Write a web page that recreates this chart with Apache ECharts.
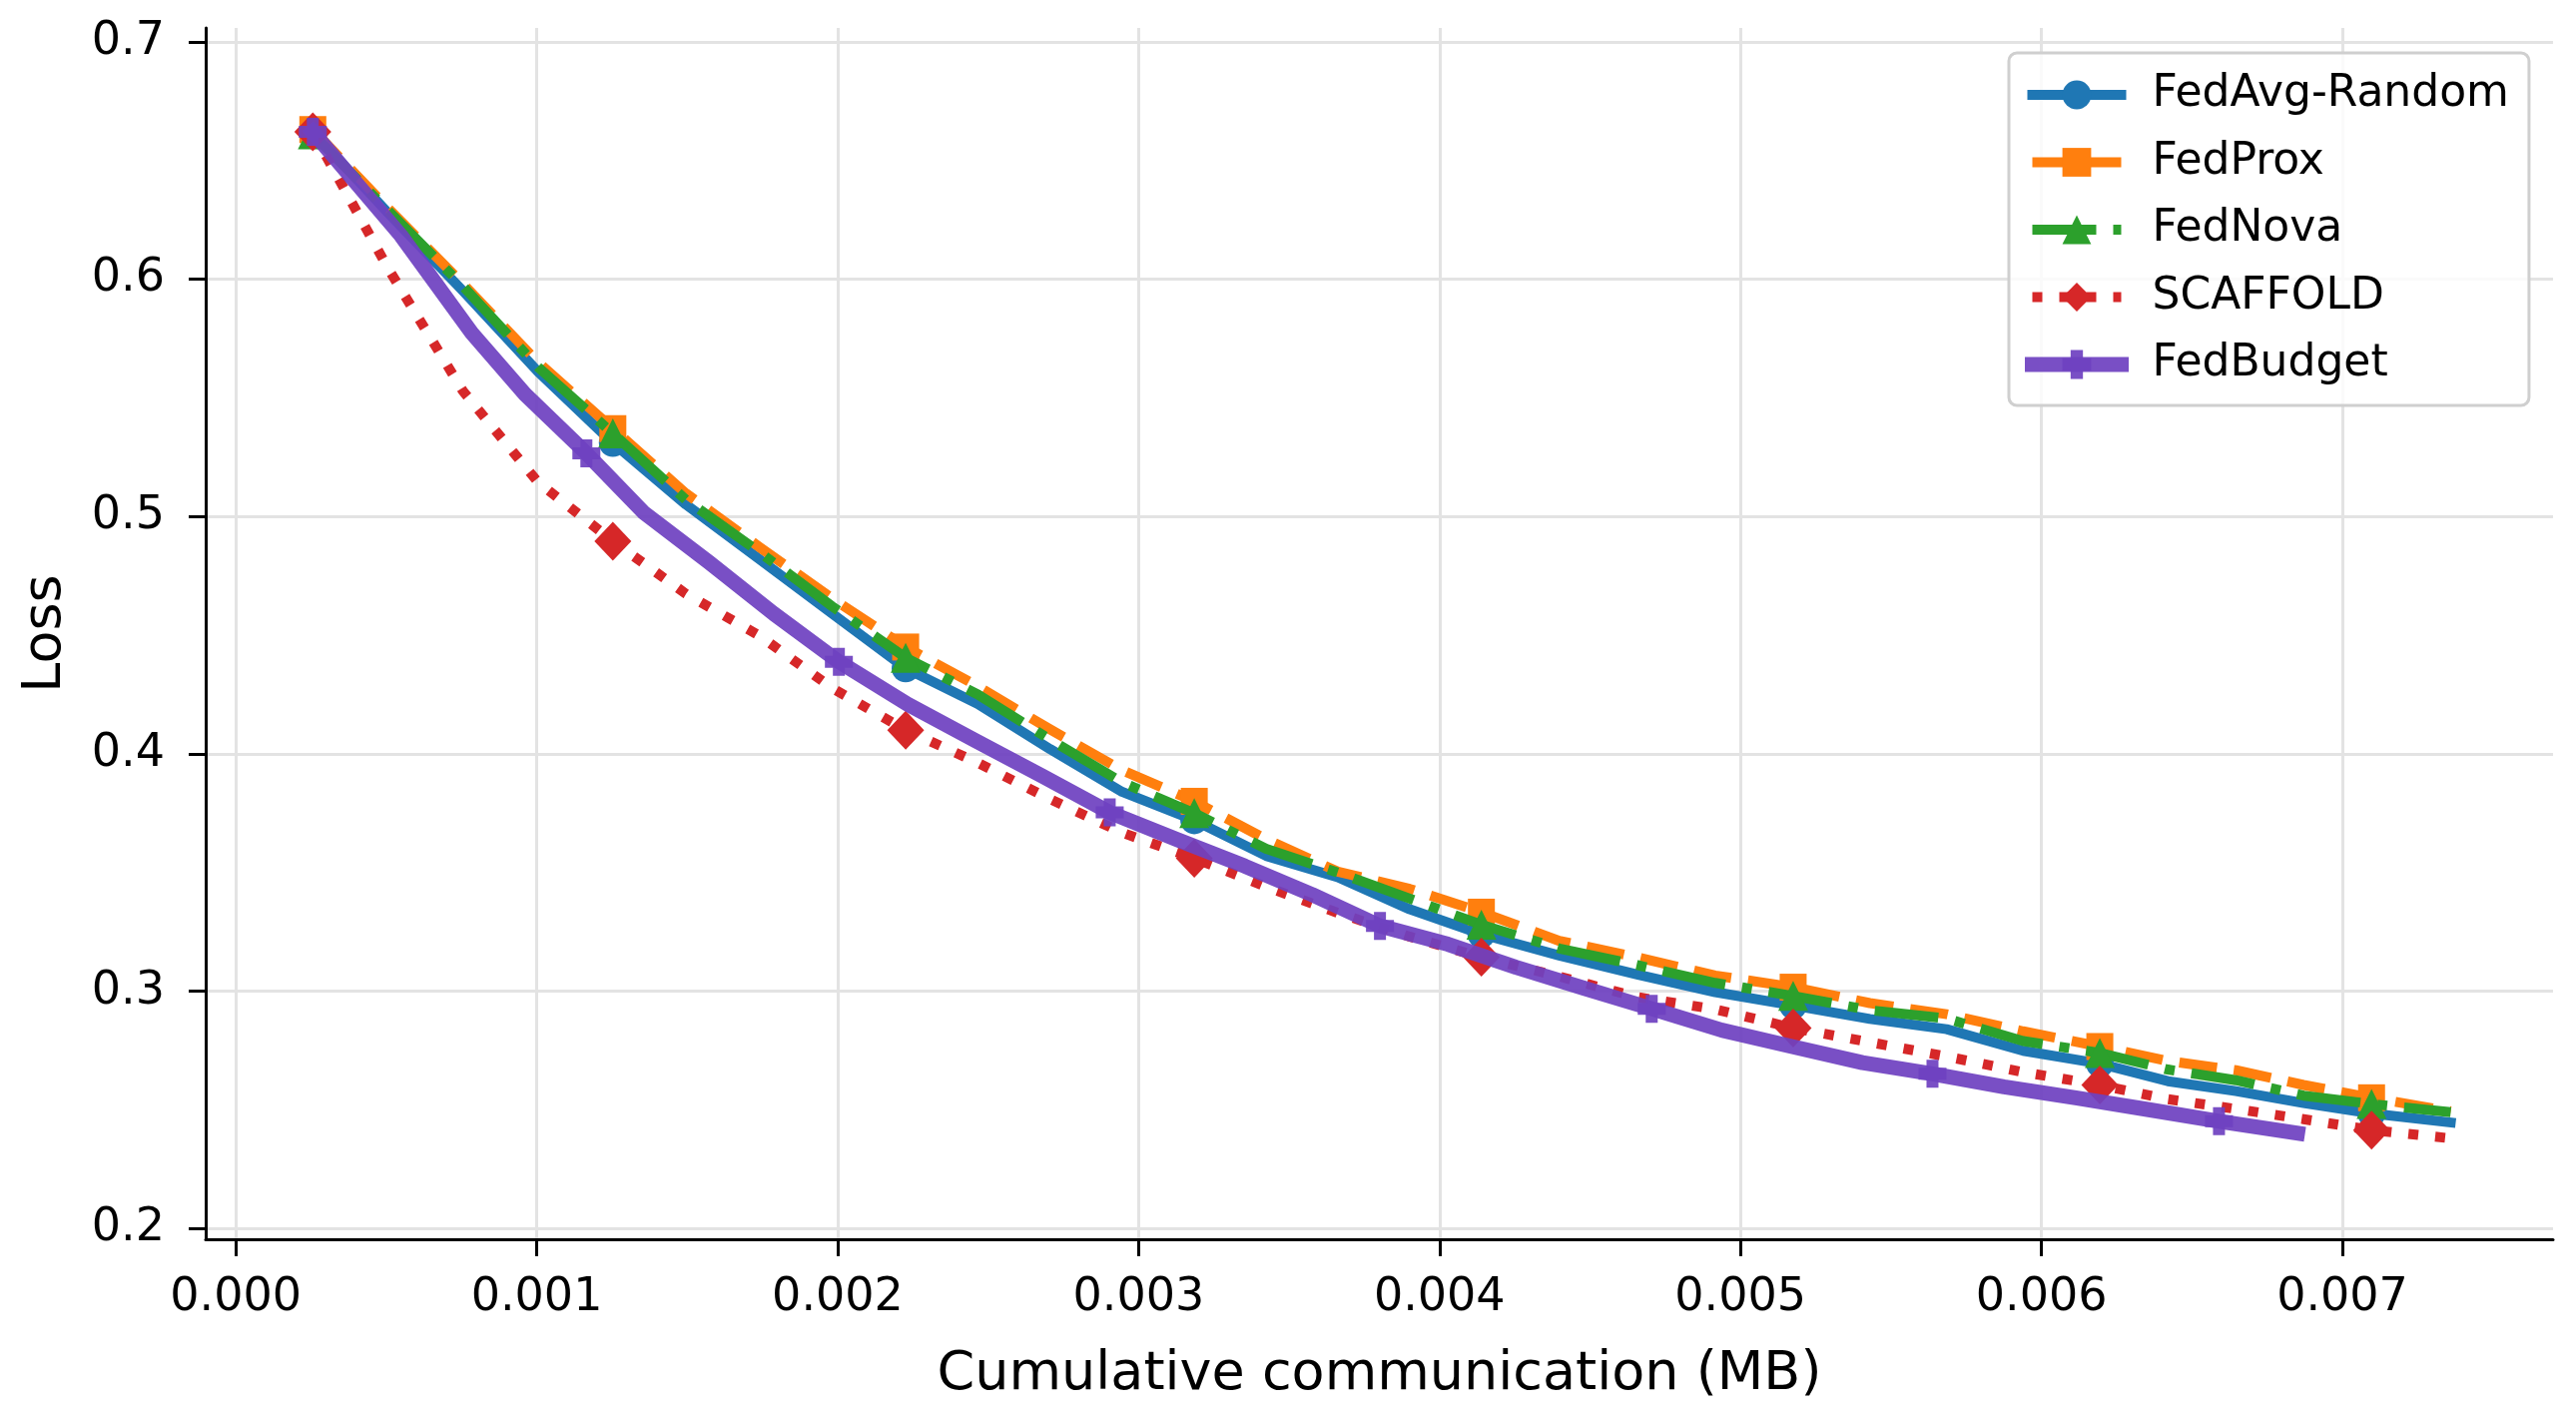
<!DOCTYPE html>
<html lang="en">
<head>
  <meta charset="UTF-8">
  <title>Loss vs cumulative communication</title>
  <style>
    html, body {margin: 0; padding: 0; background: #fff;}
    #lossChart {width: 2580px; height: 1426px;}
  </style>
</head>
<body>
  <div id="lossChart"></div>

  <script src="https://cdn.jsdelivr.net/npm/echarts@6/dist/echarts.min.js"></script>
  <script>
    // cumulative communication (MB) per round, shared by the four baselines
    var commBaseline = [0.000256, 0.000505, 0.000755, 0.001004, 0.001253, 0.001496, 0.001740, 0.001983,
                        0.002226, 0.002466, 0.002706, 0.002945, 0.003185, 0.003424, 0.003662, 0.003901,
                        0.004139, 0.004398, 0.004657, 0.004916, 0.005175, 0.005430, 0.005685, 0.005939,
                        0.006194, 0.006420, 0.006646, 0.006871, 0.007097, 0.007360];
    // FedBudget sends less per round
    var commFedBudget = [0.000256, 0.000549, 0.000784, 0.000961, 0.001165, 0.001356, 0.001572, 0.001788,
                         0.002004, 0.002232, 0.002456, 0.002680, 0.002904, 0.003128, 0.003353, 0.003577,
                         0.003802, 0.004028, 0.004254, 0.004479, 0.004705, 0.004938, 0.005171, 0.005405,
                         0.005638, 0.005876, 0.006114, 0.006352, 0.006590, 0.006851];

    var lossFedAvg = [0.662, 0.628, 0.595, 0.561, 0.531, 0.505, 0.482, 0.459, 0.436, 0.421,
                      0.402, 0.384, 0.372, 0.357, 0.348, 0.3345, 0.324, 0.315, 0.307, 0.2996,
                      0.294, 0.2883, 0.284, 0.2749, 0.2695, 0.2621, 0.2579, 0.2529, 0.2485, 0.2447];
    var lossFedProx = [0.663, 0.630, 0.598, 0.565, 0.537, 0.5097, 0.4871, 0.4654, 0.445, 0.4284,
                       0.4103, 0.3931, 0.380, 0.364, 0.3504, 0.3431, 0.3333, 0.3212, 0.3143, 0.3066,
                       0.3017, 0.295, 0.2903, 0.2831, 0.2767, 0.2706, 0.2667, 0.2605, 0.2551, 0.2494];
    var lossFedNova = [0.661, 0.629, 0.597, 0.563, 0.535, 0.507, 0.485, 0.462, 0.4405, 0.425,
                       0.406, 0.388, 0.375, 0.360, 0.350, 0.339, 0.328, 0.318, 0.311, 0.3035,
                       0.298, 0.292, 0.2885, 0.279, 0.274, 0.267, 0.2625, 0.256, 0.2525, 0.249];
    var lossScaffold = [0.662, 0.6048, 0.5528, 0.5145, 0.4896, 0.4674, 0.4498, 0.4276, 0.410, 0.3962,
                        0.3809, 0.3668, 0.356, 0.344, 0.333, 0.323, 0.3143, 0.3062, 0.2975, 0.2924,
                        0.2845, 0.2785, 0.2725, 0.2659, 0.2605, 0.2545, 0.2504, 0.2461, 0.2415, 0.238];
    var lossFedBudget = [0.662, 0.6183, 0.5773, 0.5515, 0.5266, 0.5016, 0.4807, 0.459, 0.4388, 0.4209,
                         0.4057, 0.3906, 0.3753, 0.3639, 0.3527, 0.3407, 0.3275, 0.3198, 0.3101, 0.3013,
                         0.2926, 0.2836, 0.2767, 0.2699, 0.2652, 0.2597, 0.2551, 0.2502, 0.2452, 0.2402];

    var xTicks = [0, 0.001, 0.002, 0.003, 0.004, 0.005, 0.006, 0.007];
    var yTicks = [0.2, 0.3, 0.4, 0.5, 0.6, 0.7];

    var FONT = 'DejaVu Sans';
    var PLUS = 'path://M2,0H5V2H7V5H5V7H2V5H0V2H2Z';

    // marker on every 4th point, like markevery=4
    function toPoints(xs, ys, mark) {
      var out = [];
      for (var i = 0; i < ys.length; i++) {
        out.push({value: [xs[i], ys[i]], symbol: i % 4 === 0 ? mark : 'none'});
      }
      return out;
    }

    function lineSeries(name, xs, ys, color, width, dash, cap, mark, size, z, opacity) {
      return {
        name: name,
        type: 'line',
        z: z,
        symbol: mark,
        symbolSize: size,
        showAllSymbol: true,
        lineStyle: {color: color, width: width, type: dash, cap: cap, join: 'round', opacity: opacity},
        itemStyle: {color: color, borderWidth: 0, opacity: opacity},
        emphasis: {disabled: true},
        data: toPoints(xs, ys, mark)
      };
    }

    var lossChart = echarts.init(document.getElementById('lossChart'), null, {renderer: 'canvas', devicePixelRatio: 1});

    var option = {
      backgroundColor: '#fff',
      animation: false,
      grid: {left: 206, right: 23, top: 28, bottom: 185, containLabel: false},
      legend: {
        orient: 'vertical',
        left: 2012,
        top: 53,
        z: 10,
        padding: [20, 20, 19, 16],
        itemWidth: 89,
        itemHeight: 36,
        itemGap: 23.5,
        backgroundColor: 'rgba(255,255,255,0.8)',
        borderColor: '#cfcfcf',
        borderWidth: 3,
        borderRadius: 8,
        textStyle: {fontFamily: FONT, fontSize: 44, color: '#000', lineHeight: 36, padding: [0, 0, 0, 26]},
        data: [
          {name: 'FedAvg-Random', lineStyle: {width: 10}},
          {name: 'FedProx', lineStyle: {width: 10}},
          {name: 'FedNova', lineStyle: {width: 10}},
          {name: 'SCAFFOLD', lineStyle: {width: 10}},
          {name: 'FedBudget', lineStyle: {width: 15}}
        ]
      },
      xAxis: {
        type: 'value',
        min: -0.0001,
        max: 0.0077,
        name: 'Cumulative communication (MB)',
        nameLocation: 'middle',
        nameGap: 109,
        nameTextStyle: {fontFamily: FONT, fontSize: 54, color: '#000'},
        axisLine: {show: true, onZero: false, lineStyle: {color: '#000', width: 3}},
        axisTick: {show: true, customValues: xTicks, length: 17, lineStyle: {color: '#000', width: 3}},
        axisLabel: {
          customValues: xTicks,
          margin: 36,
          fontFamily: FONT, fontSize: 46, color: '#000',
          formatter: function (v) { return v.toFixed(3); }
        },
        splitLine: {show: true, lineStyle: {color: '#e3e3e3', width: 3}}
      },
      yAxis: {
        type: 'value',
        min: 0.1955,
        max: 0.7058,
        name: 'Loss',
        nameLocation: 'middle',
        nameGap: 133,
        nameTextStyle: {fontFamily: FONT, fontSize: 54, color: '#000'},
        axisLine: {show: true, onZero: false, lineStyle: {color: '#000', width: 3}},
        axisTick: {show: true, customValues: yTicks, length: 17, lineStyle: {color: '#000', width: 3}},
        axisLabel: {
          customValues: yTicks,
          margin: 41,
          fontFamily: FONT, fontSize: 46, color: '#000',
          formatter: function (v) { return v.toFixed(1); }
        },
        splitLine: {show: true, lineStyle: {color: '#e3e3e3', width: 3}}
      },
      series: [
        lineSeries('FedAvg-Random', commBaseline, lossFedAvg, '#1f77b4', 10, 'solid', 'square', 'circle', 28, 2, 1),
        lineSeries('FedProx', commBaseline, lossFedProx, '#ff7f0e', 10, [38, 17], 'butt', 'rect', 27, 3, 1),
        lineSeries('FedNova', commBaseline, lossFedNova, '#2ca02c', 10, [64, 17, 10, 17], 'butt', 'triangle', 30, 4, 1),
        lineSeries('SCAFFOLD', commBaseline, lossScaffold, '#d62728', 10, [10, 17], 'butt', 'diamond', [37, 39], 5, 1),
        lineSeries('FedBudget', commFedBudget, lossFedBudget, '#6f42c1', 15, 'solid', 'square', PLUS, 28, 6, 0.93)
      ]
    };

    lossChart.setOption(option);
  </script>
</body>
</html>
